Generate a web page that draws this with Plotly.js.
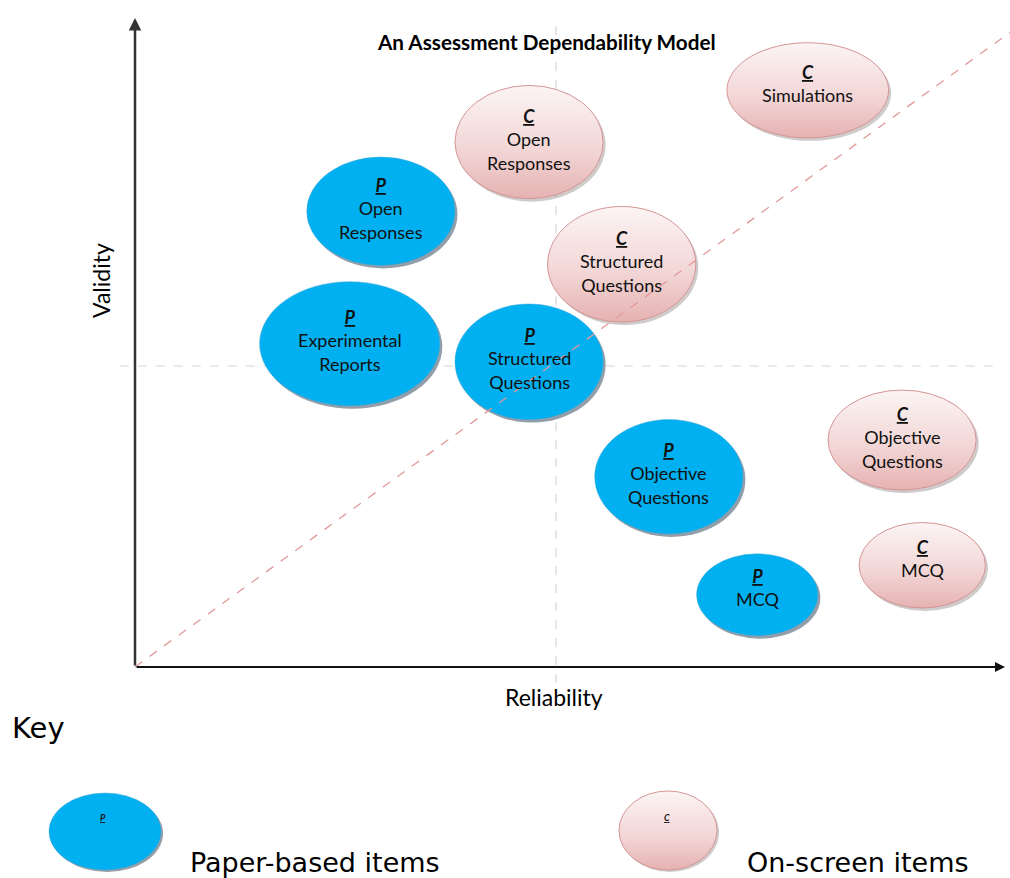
<!DOCTYPE html>
<html>
<head>
<meta charset="utf-8">
<script src="https://cdn.plot.ly/plotly-3.0.1.min.js"></script>
<style>html,body{margin:0;padding:0;background:#fff;}#chart{width:1010px;height:878px;}</style>
</head>
<body>
<div id="chart"></div>
<script>
// ---- data (axis units: Reliability 0-10, Validity 0-10, midpoint 5) ----
const itemLabels = ['Simulations', 'Open<br>Responses', 'Open<br>Responses', 'Structured<br>Questions',
  'Experimental<br>Reports', 'Structured<br>Questions', 'Objective<br>Questions', 'Objective<br>Questions',
  'MCQ', 'MCQ'];
const itemMode = ['C', 'C', 'P', 'C', 'P', 'P', 'C', 'P', 'C', 'P'];
const reliability = [7.99, 4.68, 2.92, 5.78, 2.55, 4.68, 9.11, 6.34, 9.35, 7.39];
const validity = [9.58, 8.72, 7.57, 6.69, 5.37, 5.07, 3.77, 3.16, 1.69, 1.20];
const spreadReliability = [0.96, 0.88, 0.88, 0.88, 1.07, 0.88, 0.88, 0.88, 0.75, 0.72];
const spreadValidity = [0.79, 0.94, 0.90, 0.96, 1.03, 0.96, 0.83, 0.95, 0.71, 0.68];
const keyLabels = ['Paper-based items', 'On-screen items'];
const axisTitles = {x: 'Reliability', y: 'Validity'};
const chartTitle = 'An Assessment Dependability Model';

// ---- layout geometry (pixels of the 1010x878 page) ----
const W = 1010, H = 878;
const ox = 135, oy = 667, ux = 84.2, uy = 60.2;
const xr = [-ox / ux, (W - ox) / ux];
const yr = [(oy - H) / uy, oy / uy];
const px = v => v / W, py = v => 1 - v / H;

const PINK = 'rgb(243, 214, 214)';
const style = {
  P: {fill: '#00B0F0', line: '#3FA6D6', shadow: 'rgba(110,125,140,0.75)'},
  C: {fill: PINK, line: '#D49595', shadow: 'rgba(150,140,140,0.45)'}
};
const sdx = 2.5 / ux, sdy = 3 / uy;

const shapes = [];
// quadrant guides
shapes.push({type: 'line', xref: 'x', yref: 'y', x0: 5, x1: 5, y0: -0.27, y1: 10.75,
  line: {color: '#D6D6D6', width: 1.2, dash: 'dash'}, layer: 'above'});
shapes.push({type: 'line', xref: 'x', yref: 'y', x0: -0.18, x1: 10.21, y0: 5, y1: 5,
  line: {color: '#D6D6D6', width: 1.2, dash: 'dash'}, layer: 'above'});
// ellipses
for (let i = 0; i < itemLabels.length; i++) {
  const s = style[itemMode[i]];
  const cx = reliability[i], cy = validity[i], rx = spreadReliability[i], ry = spreadValidity[i];
  shapes.push({type: 'circle', xref: 'x', yref: 'y', layer: 'above',
    x0: cx - rx + sdx, x1: cx + rx + sdx, y0: cy - ry - sdy, y1: cy + ry - sdy,
    fillcolor: s.shadow, line: {width: 0}});
  shapes.push({type: 'circle', xref: 'x', yref: 'y', layer: 'above',
    x0: cx - rx, x1: cx + rx, y0: cy - ry, y1: cy + ry,
    fillcolor: s.fill, line: {color: s.line, width: itemMode[i] === 'C' ? 1 : 0.5}});
}
// diagonal
shapes.push({type: 'line', xref: 'x', yref: 'y', x0: 0, y0: 0, x1: 10.4, y1: 10.55,
  line: {color: '#E29999', width: 1.3, dash: 'dash'}, layer: 'above'});
// key ellipses
const keyEll = [
  {m: 'P', x0: 49, x1: 161, y0: 793, y1: 870},
  {m: 'C', x0: 619, x1: 717, y0: 791, y1: 870}
];
keyEll.forEach(k => {
  const s = style[k.m];
  shapes.push({type: 'circle', xref: 'paper', yref: 'paper', layer: 'above',
    x0: px(k.x0 + 2), x1: px(k.x1 + 2), y0: py(k.y1 + 2), y1: py(k.y0 + 2),
    fillcolor: s.shadow, line: {width: 0}});
  shapes.push({type: 'circle', xref: 'paper', yref: 'paper', layer: 'above',
    x0: px(k.x0), x1: px(k.x1), y0: py(k.y1), y1: py(k.y0),
    fillcolor: s.fill, line: {color: s.line, width: k.m === 'C' ? 1 : 0.5}});
});

const lblFont = {family: 'Lato, "Open Sans", sans-serif', size: 18, color: '#111'};
const head = m => '<span style="text-decoration:underline"><b><i>' + m + '</i></b></span>';

const annotations = [];
for (let i = 0; i < itemLabels.length; i++) {
  const lines = itemLabels[i].split('<br>').length + 1;
  annotations.push({xref: 'x', yref: 'y', x: reliability[i], y: validity[i],
    xanchor: 'center', yanchor: 'middle',
    text: head(itemMode[i]) + '<br>' + itemLabels[i], showarrow: false,
    font: lblFont, align: 'center', yshift: lines === 2 ? 7 : 3});
}
// axes with arrows
annotations.push({xref: 'x', yref: 'y', axref: 'x', ayref: 'y', x: (1005 - ox) / ux, y: 0, ax: 0, ay: 0,
  text: '', showarrow: true, arrowhead: 2, arrowsize: 1, arrowwidth: 2, arrowcolor: '#111'});
annotations.push({xref: 'x', yref: 'y', axref: 'x', ayref: 'y', x: 0, y: (oy - 18) / uy, ax: 0, ay: 0,
  text: '', showarrow: true, arrowhead: 2, arrowsize: 1, arrowwidth: 2.5, arrowcolor: '#333'});
// texts placed on the page
const pageText = (x, y, text, font, extra) => Object.assign({xref: 'paper', yref: 'paper',
  x: px(x), y: py(y), text: text, showarrow: false, xanchor: 'center', yanchor: 'middle', font: font}, extra || {});
annotations.push(pageText(546, 42, '<b>' + chartTitle + '</b>', {family: 'Lato, sans-serif', size: 20.7, color: '#000'}));
annotations.push(pageText(554, 697, axisTitles.x, {family: 'Lato, sans-serif', size: 23, color: '#000'}));
annotations.push(pageText(101, 281, axisTitles.y, {family: 'Lato, sans-serif', size: 23, color: '#000'}, {textangle: -90}));
// key
const keyFont = {family: '"DejaVu Sans", sans-serif', size: 27, color: '#000'};
annotations.push(pageText(10, 728, 'Key', {family: '"DejaVu Sans", sans-serif', size: 29, color: '#000'}, {xanchor: 'left'}));
annotations.push(pageText(188, 862, keyLabels[0], keyFont, {xanchor: 'left'}));
annotations.push(pageText(745, 862, keyLabels[1], keyFont, {xanchor: 'left'}));
annotations.push(pageText(103, 817, head('P'), {family: 'Lato, sans-serif', size: 9, color: '#111'}));
annotations.push(pageText(667, 817, head('C'), {family: 'Lato, sans-serif', size: 9, color: '#111'}));

const axisBase = {showgrid: false, zeroline: false, showticklabels: false, ticks: '', showline: false, fixedrange: true};
const layout = {
  width: W, height: H, margin: {l: 0, r: 0, t: 0, b: 0},
  paper_bgcolor: '#fff', plot_bgcolor: '#fff', showlegend: false,
  xaxis: Object.assign({range: xr, domain: [0, 1]}, axisBase),
  yaxis: Object.assign({range: yr, domain: [0, 1]}, axisBase),
  shapes: shapes, annotations: annotations
};
Plotly.newPlot('chart', [{type: 'scatter', x: reliability, y: validity, mode: 'markers',
  marker: {size: 1, opacity: 0}, hoverinfo: 'skip'}], layout, {displayModeBar: false, staticPlot: true})
.then(gd => {
  // soft vertical gradient on the on-screen (pink) ellipses, as in the reference
  const svg = gd.querySelector('svg.main-svg');
  const ns = 'http://www.w3.org/2000/svg';
  let defs = svg.querySelector('defs');
  if (!defs) { defs = document.createElementNS(ns, 'defs'); svg.insertBefore(defs, svg.firstChild); }
  const g = document.createElementNS(ns, 'linearGradient');
  g.setAttribute('id', 'pinkGrad');
  g.setAttribute('x1', '0'); g.setAttribute('y1', '0'); g.setAttribute('x2', '0'); g.setAttribute('y2', '1');
  [['0', '#FCF4F4'], ['0.55', '#F3D7D7'], ['1', '#E6B2B2']].forEach(([o, c]) => {
    const st = document.createElementNS(ns, 'stop');
    st.setAttribute('offset', o); st.setAttribute('stop-color', c); g.appendChild(st);
  });
  defs.appendChild(g);
  gd.querySelectorAll('.shapelayer path').forEach(p => {
    if ((p.style.fill || '').replace(/\s/g, '') === PINK.replace(/\s/g, '')) {
      p.style.fill = 'url(#pinkGrad)';
    }
  });
});
</script>
</body>
</html>
